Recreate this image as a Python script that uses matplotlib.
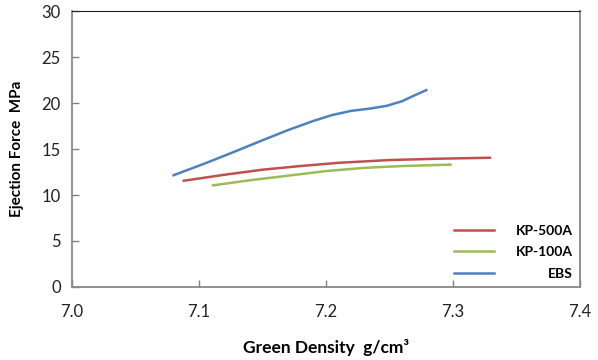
import matplotlib
matplotlib.use("Agg")
import matplotlib.pyplot as plt

plt.rcParams['font.family'] = ['Lato', 'DejaVu Sans']

# values
ebs_x = [7.080, 7.105, 7.126, 7.150, 7.170, 7.190, 7.205, 7.220, 7.235, 7.248, 7.260, 7.270, 7.279]
ebs_y = [12.15, 13.45, 14.60, 15.95, 17.05, 18.05, 18.70, 19.15, 19.40, 19.70, 20.20, 20.85, 21.40]

kp500_x = [7.088, 7.120, 7.150, 7.180, 7.210, 7.250, 7.290, 7.329]
kp500_y = [11.55, 12.20, 12.75, 13.15, 13.50, 13.80, 13.95, 14.05]

kp100_x = [7.111, 7.140, 7.170, 7.200, 7.230, 7.260, 7.298]
kp100_y = [11.05, 11.60, 12.10, 12.60, 12.95, 13.15, 13.30]

fig = plt.figure(figsize=(5.98, 3.6), dpi=100)
ax = fig.add_axes([0.1204, 0.2028, 0.8495, 0.7666])

ax.plot(kp500_x, kp500_y, color='#C0504D', lw=1.8, label='KP-500A', solid_joinstyle='round')
ax.plot(kp100_x, kp100_y, color='#9BBB59', lw=1.8, label='KP-100A', solid_joinstyle='round')
ax.plot(ebs_x, ebs_y, color='#4F81BD', lw=1.8, label='EBS', solid_joinstyle='round')

ax.set_xlim(7.0, 7.4)
ax.set_ylim(0, 30)
ax.set_xticks([7.0, 7.1, 7.2, 7.3, 7.4])
ax.set_xticklabels(['7.0', '7.1', '7.2', '7.3', '7.4'])
ax.set_yticks(range(0, 31, 5))
ax.tick_params(direction='in', length=5, width=1, color='#808080',
               labelsize=12, labelcolor='#222222', pad=8)
ax.tick_params(axis='x', pad=12)

for s in ['left', 'bottom', 'right']:
    ax.spines[s].set_color('#888888')
    ax.spines[s].set_linewidth(1.3)
ax.spines['top'].set_color('#222222')

ax.set_xlabel('Green Density  g/cm³', fontsize=12.5, fontweight='bold', labelpad=14)
ax.set_ylabel('Ejection Force  MPa', fontsize=11, fontweight='bold', labelpad=13)

leg = ax.legend(loc='lower right', frameon=False, handlelength=2.9,
                handletextpad=1.6, labelspacing=0.7, borderaxespad=0.1,
                prop={'weight': 'bold', 'size': 10})
# right-align the legend labels
fig.canvas.draw()
r = fig.canvas.get_renderer()
widths = [t.get_window_extent(r).width for t in leg.get_texts()]
shift = max(widths)
for t, w in zip(leg.get_texts(), widths):
    t.set_position((shift - w, 0))

fig.savefig('out.png', dpi=100)
